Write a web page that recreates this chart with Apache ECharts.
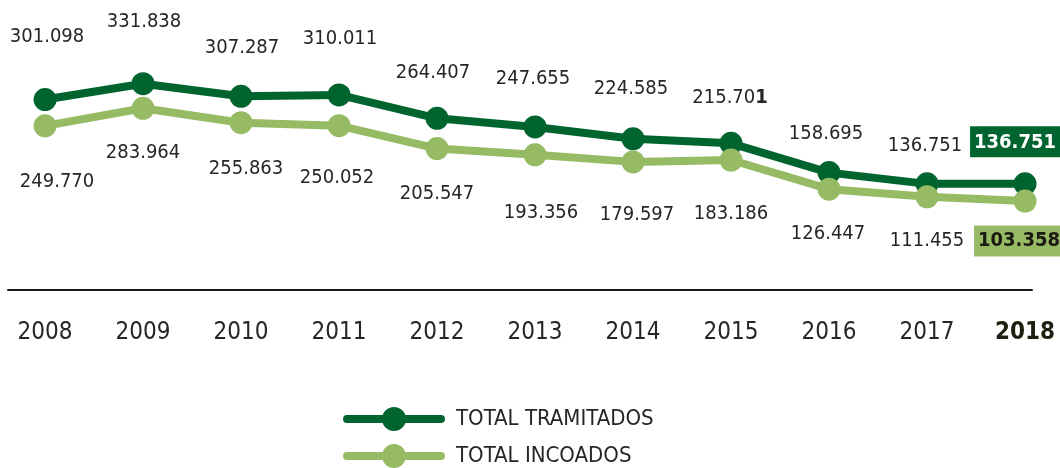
<!DOCTYPE html>
<html><head><meta charset="utf-8">
<script src="https://cdn.jsdelivr.net/npm/echarts@6/dist/echarts.min.js"></script>
<style>html,body{margin:0;padding:0;background:#fff}#c{width:1060px;height:468px}</style>
</head><body><div id="c"></div>
<script>
const years = [2008, 2009, 2010, 2011, 2012, 2013, 2014, 2015, 2016, 2017, 2018];
const yearLabels = ['2008', '2009', '2010', '2011', '2012', '2013', '2014', '2015', '2016', '2017', '2018'];
const tramitados = [301098, 331838, 307287, 310011, 264407, 247655, 224585, 215701, 158695, 136751, 136751];
const incoados = [249770, 283964, 255863, 250052, 205547, 193356, 179597, 183186, 126447, 111455, 103358];
const seriesNames = ['TOTAL TRAMITADOS', 'TOTAL INCOADOS'];

// label layout nudges (text offset from each point)
const upNudge = [[2,-63],[1,-62],[1,-49],[1,-56],[-4,-46],[-2,-48],[-2,-50],[-1,-46],[-3,-39],[-2,-38],[-10,-42]];
const downNudge = [[12,56],[0,44],[5,46],[-2,52],[0,45],[6,58],[4,53],[0,54],[-1,45],[0,44],[-6,40]];

const FONT = "'DejaVu Sans Condensed','Liberation Sans Narrow','Roboto',sans-serif";
const DARK = '#00642f';
const LIGHT = '#96bb64';
const TEXT = '#262626';
const LEGEND_ICON = 'path://M4,8 L98,8 A4,4 0 0 1 98,16 L4,16 A4,4 0 0 1 4,8 Z M51,0 A12,12 0 1 1 50.99,0 Z';

function fmt(v) {
  const k = Math.floor(v / 1000), r = v % 1000;
  return k + '.' + String(r).padStart(3, '0');
}

function buildData(values, nudges, isTop) {
  const last = values.length - 1;
  return values.map((v, i) => {
    const item = {
      value: [years[i], v],
      label: { offset: nudges[i] }
    };
    if (i === last) {
      item.label = {
        offset: nudges[i],
        backgroundColor: isTop ? DARK : LIGHT,
        color: isTop ? '#ffffff' : '#1a1a12',
        fontWeight: 'bold',
        fontSize: 20,
        padding: [5, 4, 4, 4],
        lineHeight: 22
      };
    }
    return item;
  });
}

function legendBlock(idx, top, color) {
  return {
    data: [{ name: seriesNames[idx], icon: LEGEND_ICON, itemStyle: { color: color } }],
    left: 338,
    top: top,
    itemWidth: 102,
    itemHeight: 24,
    textStyle: { fontFamily: FONT, fontSize: 22, color: TEXT, padding: [0, 0, 0, 6] }
  };
}

const chart = echarts.init(document.getElementById('c'));
chart.setOption({
  animation: false,
  backgroundColor: '#ffffff',
  grid: { left: 8, right: 28, top: 20, height: 270 },
  xAxis: {
    type: 'value',
    min: 2007.622,
    max: 2018.071,
    axisLine: { show: true, onZero: false, lineStyle: { color: '#1a1a1a', width: 2 } },
    axisTick: { show: false },
    splitLine: { show: false },
    axisLabel: {
      customValues: years,
      margin: 31,
      fontFamily: FONT,
      fontSize: 24,
      color: TEXT,
      formatter: function (v) {
        const i = years.indexOf(Math.round(v));
        if (i === years.length - 1) return '{b|' + yearLabels[i] + '}';
        return i >= 0 ? yearLabels[i] : '';
      },
      rich: { b: { fontFamily: FONT, fontSize: 24, fontWeight: 'bold', color: '#1f1f10' } }
    }
  },
  yAxis: { type: 'value', min: -70000, max: 456000, show: false, splitLine: { show: false } },
  legend: [legendBlock(0, 402, DARK), legendBlock(1, 439, LIGHT)],
  series: [
    {
      name: seriesNames[0],
      type: 'line',
      data: buildData(tramitados, upNudge, true),
      symbol: 'circle',
      symbolSize: 23,
      itemStyle: { color: DARK },
      lineStyle: { color: DARK, width: 8 },
      label: {
        show: true, position: 'inside',
        fontFamily: FONT, fontSize: 20, color: TEXT,
        formatter: function (p) {
          const s = fmt(p.value[1]);
          if (p.dataIndex === 7) return '{n|' + s.slice(0, -1) + '}{b|' + s.slice(-1) + '}';
          return s;
        },
        rich: {
          n: { fontFamily: FONT, fontSize: 20, color: TEXT },
          b: { fontFamily: FONT, fontSize: 20, color: TEXT, fontWeight: 'bold' }
        }
      },
      z: 2
    },
    {
      name: seriesNames[1],
      type: 'line',
      data: buildData(incoados, downNudge, false),
      symbol: 'circle',
      symbolSize: 23,
      itemStyle: { color: LIGHT },
      lineStyle: { color: LIGHT, width: 8 },
      label: {
        show: true, position: 'inside',
        fontFamily: FONT, fontSize: 20, color: TEXT,
        formatter: function (p) { return fmt(p.value[1]); }
      },
      z: 3
    }
  ]
});
</script>
</body></html>
